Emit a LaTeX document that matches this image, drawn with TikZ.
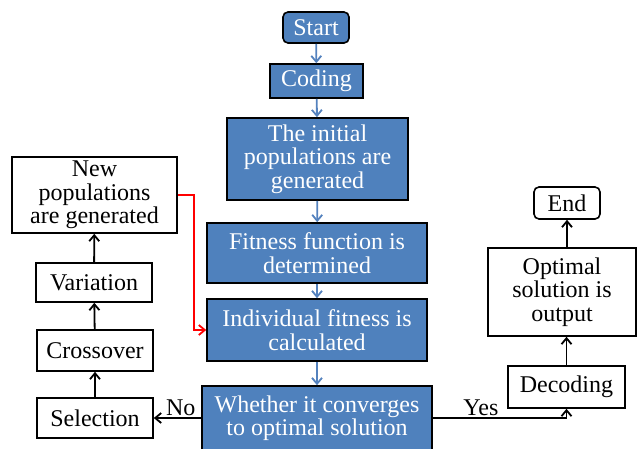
\documentclass[tikz,border=0pt]{standalone}
\usepackage{fontspec}
\setmainfont{Liberation Serif}
\usepackage{tikz}
\usetikzlibrary{positioning,arrows.meta}
\definecolor{boxblue}{RGB}{79,129,189}
\definecolor{arrowblue}{RGB}{84,130,190}

\begin{document}
\begin{tikzpicture}[x=1pt,y=-1pt,
  every node/.style={font=\fontsize{24}{23.5}\selectfont, inner sep=0pt, align=center},
  bluebox/.style={draw=black, line width=1.6pt, fill=boxblue, text=white},
  whitebox/.style={draw=black, line width=1.6pt, fill=white, text=black},
  bluearrow/.style={-{Straight Barb[length=6pt,width=10pt]}, arrowblue, line width=1.8pt},
  blackarrow/.style={-{Straight Barb[length=6pt,width=10pt]}, black, line width=1.8pt},
  redarrow/.style={-{Straight Barb[length=6pt,width=10pt]}, red, line width=1.8pt}]
\useasboundingbox (0,0) rectangle (637,448);

% main column
\node (start) at (316,27.5) [bluebox, rounded corners=5pt, minimum width=66pt, minimum height=31pt] {Start};
\node (coding) at (316.5,81) [bluebox, minimum width=93pt, minimum height=34pt] {Coding};
\node (init) at (317.5,159) [bluebox, minimum width=181pt, minimum height=82pt] {The initial\\populations are\\generated};
\node (fit) at (317,253) [bluebox, minimum width=220pt, minimum height=60pt] {Fitness function is\\determined};
\node (ind) at (317,330) [bluebox, minimum width=220pt, minimum height=62pt] {Individual fitness is\\calculated};
\node (conv) at (317,418) [bluebox, minimum width=230pt, minimum height=64pt] {Whether it converges\\to optimal solution};

% left column
\node (new) at (94.5,195) [whitebox, minimum width=165pt, minimum height=76pt] {New\\populations\\are generated};
\node (var) at (94,282.5) [whitebox, minimum width=116pt, minimum height=39pt] {Variation};
\node (cross) at (95,350.5) [whitebox, minimum width=116pt, minimum height=41pt] {Crossover};
\node (sel) at (95,418) [whitebox, minimum width=116pt, minimum height=40pt] {Selection};

% right column
\node (dec) at (566.5,387) [whitebox, minimum width=117pt, minimum height=42pt] {Decoding};
\node (opt) at (562,292) [whitebox, minimum width=148pt, minimum height=88pt] {Optimal\\solution is\\output};
\node (end) at (567,203) [whitebox, rounded corners=5pt, minimum width=66pt, minimum height=32pt] {End};

\draw[bluearrow] (start) -- (coding);
\draw[bluearrow] (coding) -- (init);
\draw[bluearrow] (init) -- (fit);
\draw[bluearrow] (fit) -- (ind);
\draw[bluearrow] (ind) -- (conv);

\draw[blackarrow] (conv.west) -- node[above=1pt, pos=0.43] (no) {No} (sel.east);
\draw[blackarrow] (conv.east) -| node[above=1pt, pos=0.18] (yes) {Yes} (dec.south);
\draw[blackarrow] (sel) -- (cross);
\draw[blackarrow] (cross) -- (var);
\draw[blackarrow] (var) -- (new);
\draw[blackarrow] (dec.north) -- (dec.north |- opt.south);
\draw[blackarrow] (end.south |- opt.north) -- (end.south);

\draw[redarrow] (new.east) -- ++(16,0) |- (ind.west);
\end{tikzpicture}
\end{document}
